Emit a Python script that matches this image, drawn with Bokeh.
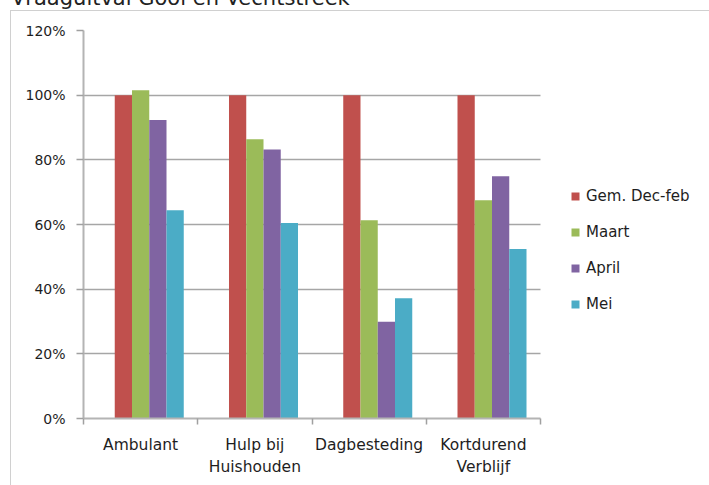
import numpy as np
from bokeh.plotting import figure
from bokeh.layouts import column
from bokeh.models import (ColumnDataSource, Range1d, FixedTicker, Legend, LegendItem, Div)
from bokeh.transform import dodge
from bokeh.embed import file_html
from bokeh.resources import INLINE

title_text = "Vraaguitval Gooi en Vechtstreek"
categories = ["Ambulant", "Hulp bij\nHuishouden", "Dagbesteding", "Kortdurend\nVerblijf"]
series_names = ["Gem. Dec-feb", "Maart", "April", "Mei"]
gem_dec_feb = [1.00, 1.00, 1.00, 1.00]
maart = [1.015, 0.864, 0.613, 0.675]
april = [0.923, 0.832, 0.299, 0.749]
mei = [0.644, 0.605, 0.372, 0.524]
colors = ["#C0504D", "#9BBB59", "#8064A2", "#4BACC6"]
y_ticks = [0, 0.2, 0.4, 0.6, 0.8, 1.0, 1.2]
y_tick_labels = ["0%", "20%", "40%", "60%", "80%", "100%", "120%"]

FONT = "DejaVu Sans"
TXT = "#1e1e1e"
n_cat = len(categories)
centers = [i + 0.5 for i in range(n_cat)]
src = ColumnDataSource(dict(x=centers, s0=gem_dec_feb, s1=maart, s2=april, s3=mei))

# plot area spans 83..540 px for the categories; the frame is widened to 700 px
# so that the legend can sit inside it
x_end = n_cat * (700 - 83) / (540 - 83)
p = figure(width=709, height=485, output_backend="svg", toolbar_location=None,
           x_range=Range1d(0, x_end), y_range=Range1d(0, 1.2),
           min_border_left=83, min_border_right=9, min_border_top=30, min_border_bottom=67)
p.outline_line_color = None
p.background_fill_color = "white"
p.border_fill_color = "white"

bar_w = 0.151
renderers = []
for i, (key, col) in enumerate(zip(["s0", "s1", "s2", "s3"], colors)):
    r = p.vbar(x=dodge("x", (i - 1) * bar_w, range=p.x_range), top=key, width=bar_w,
               source=src, fill_color=col, line_color=None)
    renderers.append(r)

# y axis
p.yaxis.ticker = FixedTicker(ticks=y_ticks)
p.yaxis.major_label_overrides = {t: l for t, l in zip(y_ticks, y_tick_labels)}
p.yaxis.axis_line_color = "#b4b4b4"
p.yaxis.axis_line_width = 2
p.yaxis.major_tick_line_color = "#a0a0a0"
p.yaxis.major_tick_line_width = 1.5
p.yaxis.major_tick_out = 7
p.yaxis.major_tick_in = 0
p.yaxis.minor_tick_line_color = None
p.yaxis.major_label_standoff = 11
p.yaxis.major_label_text_font = FONT
p.yaxis.major_label_text_font_size = "14px"
p.yaxis.major_label_text_color = TXT

# x axis: labels at category centers, ticks at boundaries
p.xaxis.ticker = FixedTicker(ticks=centers, minor_ticks=list(range(n_cat + 1)))
p.xaxis.bounds = (0, n_cat)
p.xaxis.major_label_overrides = {c: l for c, l in zip(centers, categories)}
p.xaxis.axis_line_color = "#b4b4b4"
p.xaxis.axis_line_width = 2
p.xaxis.major_tick_line_color = None
p.xaxis.major_tick_out = 0
p.xaxis.major_tick_in = 0
p.xaxis.minor_tick_line_color = "#a0a0a0"
p.xaxis.minor_tick_line_width = 1.5
p.xaxis.minor_tick_out = 6
p.xaxis.minor_tick_in = 0
p.xaxis.major_label_standoff = 11
p.xaxis.major_label_text_font = FONT
p.xaxis.major_label_text_font_size = "15.5px"
p.xaxis.major_label_text_color = TXT
p.xaxis.major_label_text_line_height = 1.26

p.xgrid.grid_line_color = None
p.ygrid.ticker = FixedTicker(ticks=y_ticks)
p.ygrid.cross_bounds = (0, n_cat)
p.ygrid.grid_line_color = "#a6a6a6"
p.ygrid.grid_line_width = 1.5

legend = Legend(items=[LegendItem(label=n, renderers=[r]) for n, r in zip(series_names, renderers)],
                location=(487, 104), orientation="vertical",
                glyph_width=10, glyph_height=10, label_height=20, label_standoff=6,
                spacing=16, padding=0, margin=0,
                border_line_color=None, background_fill_alpha=0,
                label_text_font=FONT, label_text_font_size="15px", label_text_color=TXT)
p.add_layout(legend, "center")

# chart-area border with the (cropped) chart title above it
frame_div = Div(
    text=('<div style="position:absolute; left:0px; top:-25px; font-family:\'DejaVu Sans\'; '
          'font-size:21px; line-height:24px; color:#222222; white-space:nowrap;">'
          + title_text + '</div>'),
    width=699, height=475, margin=0,
    styles={"position": "absolute", "left": "10px", "top": "10px",
            "border-top": "1px solid #d0d0d0", "border-left": "1px solid #d0d0d0",
            "pointer-events": "none", "overflow": "visible", "box-sizing": "border-box"})

layout = column(p, frame_div)
open("out.html", "w").write(file_html(layout, INLINE))
